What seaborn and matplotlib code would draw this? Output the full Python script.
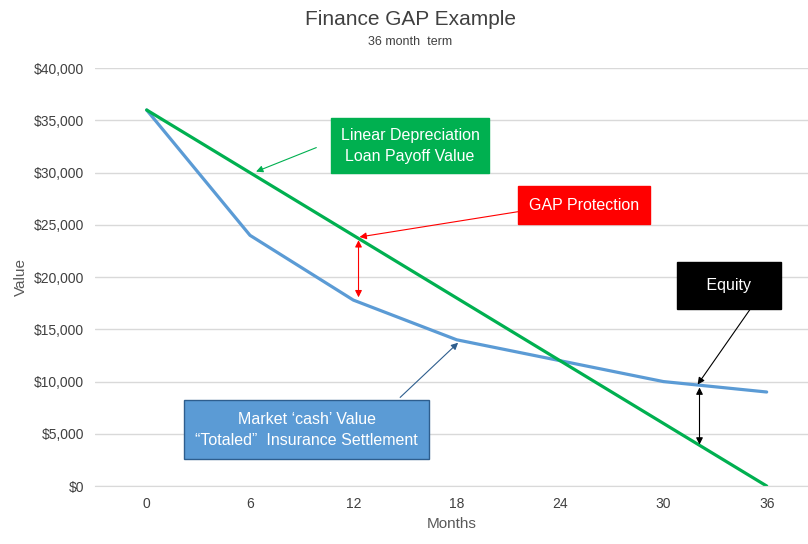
import matplotlib
matplotlib.use("Agg")
import matplotlib.pyplot as plt
import seaborn as sns
import pandas as pd

months = [0, 6, 12, 18, 24, 30, 36]
loan_payoff = [36000, 30000, 24000, 18000, 12000, 6000, 0]
market_value = [36000, 24000, 17800, 14000, 12000, 10000, 9000]
y_ticks = [0, 5000, 10000, 15000, 20000, 25000, 30000, 35000, 40000]

sns.set_style("white")
plt.rcParams["font.family"] = "Liberation Sans"

df = pd.DataFrame({"Months": months, "loan": loan_payoff, "market": market_value})

fig = plt.figure(figsize=(8.08, 5.44), dpi=100)
ax = fig.add_axes([0.1176, 0.1066, 0.8824, 0.768])

sns.lineplot(data=df, x="Months", y="market", ax=ax, color="#5B9BD5", lw=2.3)
sns.lineplot(data=df, x="Months", y="loan", ax=ax, color="#00B050", lw=2.3)

ax.set_xlim(-3, 38.4)
ax.set_ylim(0, 40000)
ax.set_xticks(months)
ax.set_yticks(y_ticks)
ax.set_yticklabels([f"${v:,}" for v in y_ticks])
ax.yaxis.grid(True, color="#D9D9D9", lw=1)
for s in ["top", "right", "left"]:
    ax.spines[s].set_visible(False)
ax.spines["bottom"].set_color("#D9D9D9")
ax.tick_params(length=0, labelsize=10, colors="#404040", pad=8)
ax.set_xlabel("Months", fontsize=11, color="#595959")
ax.set_ylabel("Value", fontsize=11, color="#595959")

fig.text(0.508, 0.965, "Finance GAP Example", ha="center", va="center", fontsize=15, color="#404040")
fig.text(0.508, 0.922, "36 month  term", ha="center", va="center", fontsize=9, color="#404040")

def box(text, x, y, fc, pad=0.55):
    ax.text(x, y, text, ha="center", va="center", fontsize=11.5, color="white", linespacing=1.5,
            bbox=dict(boxstyle=f"square,pad={pad}", fc=fc, ec="#2E5E8E" if fc == "#5B9BD5" else fc))

box("Linear Depreciation\nLoan Payoff Value", 15.3, 32600, "#00B050", 0.6)
ax.annotate("", xy=(6.2, 30000), xytext=(10.0, 32500),
            arrowprops=dict(arrowstyle="-|>", color="#00B050", lw=0.8))
box("GAP Protection", 25.4, 26900, "#FF0000", 0.7)
ax.annotate("", xy=(12.2, 23800), xytext=(21.7, 26300),
            arrowprops=dict(arrowstyle="-|>", color="#FF0000", lw=0.8))
ax.annotate("", xy=(12.3, 17800), xytext=(12.3, 23800),
            arrowprops=dict(arrowstyle="<|-|>", color="#FF0000", lw=0.8))
box("   Equity   ", 33.8, 19200, "#000000", 1.0)
ax.annotate("", xy=(31.9, 9500), xytext=(35.2, 17300),
            arrowprops=dict(arrowstyle="-|>", color="black", lw=0.8))
ax.annotate("", xy=(32.1, 3700), xytext=(32.1, 9700),
            arrowprops=dict(arrowstyle="<|-|>", color="black", lw=0.8))
box("Market \u2018cash\u2019 Value\n\u201cTotaled\u201d  Insurance Settlement", 9.3, 5400, "#5B9BD5", 0.7)
ax.annotate("", xy=(18.2, 13900), xytext=(14.6, 8300),
            arrowprops=dict(arrowstyle="-|>", color="#2E5E8E", lw=0.8))

fig.savefig("out.png", dpi=100)
